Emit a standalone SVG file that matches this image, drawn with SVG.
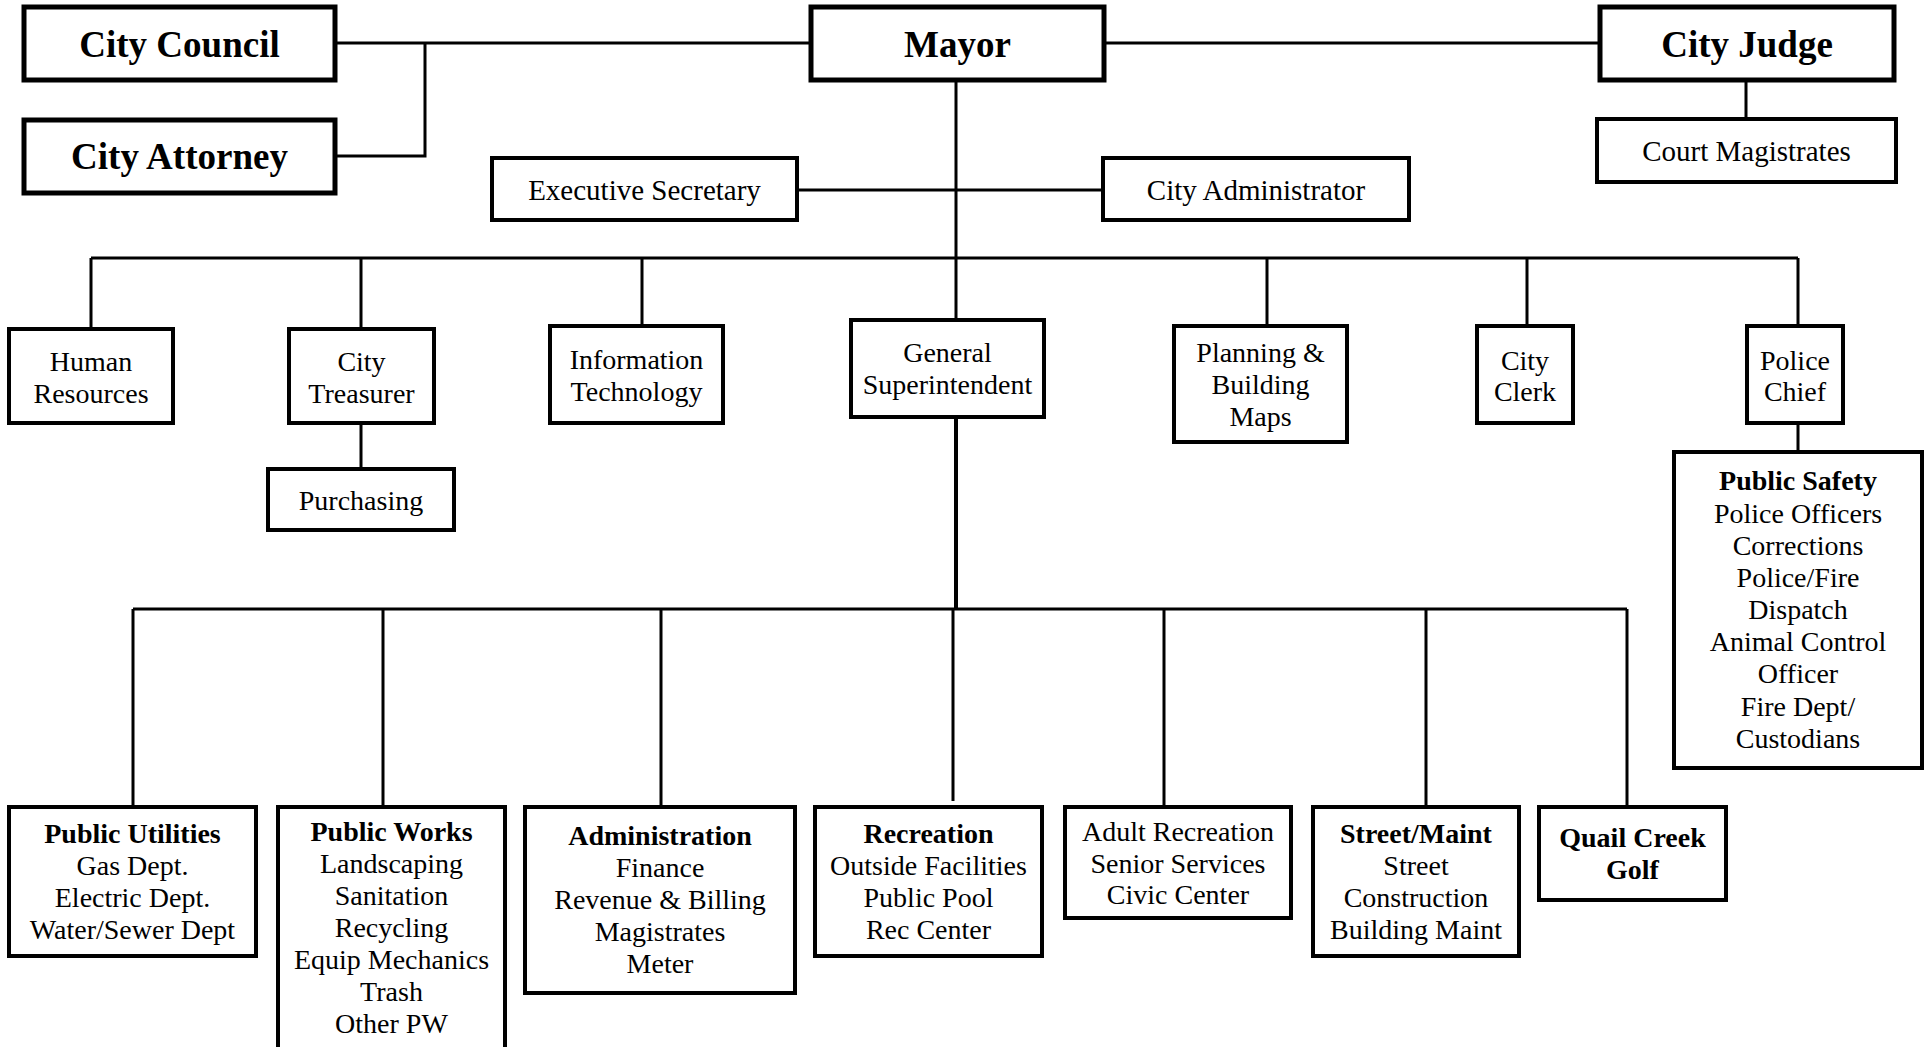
<svg xmlns="http://www.w3.org/2000/svg" width="1929" height="1047" viewBox="0 0 1929 1047">
<style>
.b{fill:#fff;stroke:#000;stroke-width:4}
.bt{fill:#fff;stroke:#000;stroke-width:5}
.c{stroke:#000;stroke-width:3;fill:none}
text{font-family:"Liberation Serif","Times New Roman",serif;fill:#000;text-anchor:middle}
.t1{font-size:37px;font-weight:bold}
.t2{font-size:29px}
.t3{font-size:28px}
.bold{font-weight:bold}
</style>
<rect width="1929" height="1047" fill="#fff"/>
<g id="connectors">
<path class="c" d="M335 43H811M1104 43H1600M425 43V156H335M1746 80V119M956 80V320M797 190H1103"/>
<path class="c" d="M91 258H1798M91 258V329M361 258V329M642 258V326M1267 258V326M1527 258V326M1798 258V326M361 423V469M1798 423V452"/>
<path class="c" d="M956 417V609" style="stroke-width:4"/>
<path class="c" d="M133 609H1627M133 609V807M383 609V807M661 609V807M953 609V801M1164 609V807M1426 609V807M1627 609V807"/>
</g>
<g id="city-council"><rect class="bt" x="24" y="7" width="311" height="73"/><text class="t1" x="179.5" y="57">City Council</text></g>
<g id="city-attorney"><rect class="bt" x="24" y="120" width="311" height="73"/><text class="t1" x="179.5" y="169">City Attorney</text></g>
<g id="mayor"><rect class="bt" x="811" y="7" width="293" height="73"/><text class="t1" x="957.5" y="57">Mayor</text></g>
<g id="city-judge"><rect class="bt" x="1600" y="7" width="294" height="73"/><text class="t1" x="1747" y="57">City Judge</text></g>
<g id="court-magistrates"><rect class="b" x="1597" y="119" width="299" height="63"/><text class="t2" x="1746.5" y="161">Court Magistrates</text></g>
<g id="executive-secretary"><rect class="b" x="492" y="158" width="305" height="62"/><text class="t2" x="644.5" y="200">Executive Secretary</text></g>
<g id="city-administrator"><rect class="b" x="1103" y="158" width="306" height="62"/><text class="t2" x="1256" y="200">City Administrator</text></g>
<g id="human-resources"><rect class="b" x="9" y="329" width="164" height="94"/><text class="t3" x="91" y="371">Human</text><text class="t3" x="91" y="403">Resources</text></g>
<g id="city-treasurer"><rect class="b" x="289" y="329" width="145" height="94"/><text class="t3" x="361.5" y="371">City</text><text class="t3" x="361.5" y="403">Treasurer</text></g>
<g id="purchasing"><rect class="b" x="268" y="469" width="186" height="61"/><text class="t3" x="361" y="510">Purchasing</text></g>
<g id="information-technology"><rect class="b" x="550" y="326" width="173" height="97"/><text class="t3" x="636.5" y="369">Information</text><text class="t3" x="636.5" y="401">Technology</text></g>
<g id="general-superintendent"><rect class="b" x="851" y="320" width="193" height="97"/><text class="t3" x="947.5" y="362">General</text><text class="t3" x="947.5" y="394">Superintendent</text></g>
<g id="planning-building"><rect class="b" x="1174" y="326" width="173" height="116"/><text class="t3" x="1260.5" y="362">Planning &amp;</text><text class="t3" x="1260.5" y="394">Building</text><text class="t3" x="1260.5" y="426">Maps</text></g>
<g id="city-clerk"><rect class="b" x="1477" y="326" width="96" height="97"/><text class="t3" x="1525" y="370">City</text><text class="t3" x="1525" y="401">Clerk</text></g>
<g id="police-chief"><rect class="b" x="1747" y="326" width="96" height="97"/><text class="t3" x="1795" y="370">Police</text><text class="t3" x="1795" y="401">Chief</text></g>
<g id="public-safety"><rect class="b" x="1674" y="452" width="248" height="316"/>
<text class="t3 bold" x="1798" y="490">Public Safety</text>
<text class="t3" x="1798" y="523">Police Officers</text>
<text class="t3" x="1798" y="555">Corrections</text>
<text class="t3" x="1798" y="587">Police/Fire</text>
<text class="t3" x="1798" y="619">Dispatch</text>
<text class="t3" x="1798" y="651">Animal Control</text>
<text class="t3" x="1798" y="683">Officer</text>
<text class="t3" x="1798" y="716">Fire Dept/</text>
<text class="t3" x="1798" y="748">Custodians</text></g>
<g id="public-utilities"><rect class="b" x="9" y="807" width="247" height="149"/>
<text class="t3 bold" x="132.5" y="843">Public Utilities</text>
<text class="t3" x="132.5" y="875">Gas Dept.</text>
<text class="t3" x="132.5" y="907">Electric Dept.</text>
<text class="t3" x="132.5" y="939">Water/Sewer Dept</text></g>
<g id="public-works"><rect class="b" x="278" y="807" width="227" height="245"/>
<text class="t3 bold" x="391.5" y="841">Public Works</text>
<text class="t3" x="391.5" y="873">Landscaping</text>
<text class="t3" x="391.5" y="905">Sanitation</text>
<text class="t3" x="391.5" y="937">Recycling</text>
<text class="t3" x="391.5" y="969">Equip Mechanics</text>
<text class="t3" x="391.5" y="1001">Trash</text>
<text class="t3" x="391.5" y="1033">Other PW</text></g>
<g id="administration"><rect class="b" x="525" y="807" width="270" height="186"/>
<text class="t3 bold" x="660" y="845">Administration</text>
<text class="t3" x="660" y="877">Finance</text>
<text class="t3" x="660" y="909">Revenue &amp; Billing</text>
<text class="t3" x="660" y="941">Magistrates</text>
<text class="t3" x="660" y="973">Meter</text></g>
<g id="recreation"><rect class="b" x="815" y="807" width="227" height="149"/>
<text class="t3 bold" x="928.5" y="843">Recreation</text>
<text class="t3" x="928.5" y="875">Outside Facilities</text>
<text class="t3" x="928.5" y="907">Public Pool</text>
<text class="t3" x="928.5" y="939">Rec Center</text></g>
<g id="adult-recreation"><rect class="b" x="1065" y="807" width="226" height="111"/>
<text class="t3" x="1178" y="841">Adult Recreation</text>
<text class="t3" x="1178" y="873">Senior Services</text>
<text class="t3" x="1178" y="904">Civic Center</text></g>
<g id="street-maint"><rect class="b" x="1313" y="807" width="206" height="149"/>
<text class="t3 bold" x="1416" y="843">Street/Maint</text>
<text class="t3" x="1416" y="875">Street</text>
<text class="t3" x="1416" y="907">Construction</text>
<text class="t3" x="1416" y="939">Building Maint</text></g>
<g id="quail-creek"><rect class="b" x="1539" y="807" width="187" height="93"/>
<text class="t3 bold" x="1632.5" y="847">Quail Creek</text>
<text class="t3 bold" x="1632.5" y="879">Golf</text></g>
</svg>
